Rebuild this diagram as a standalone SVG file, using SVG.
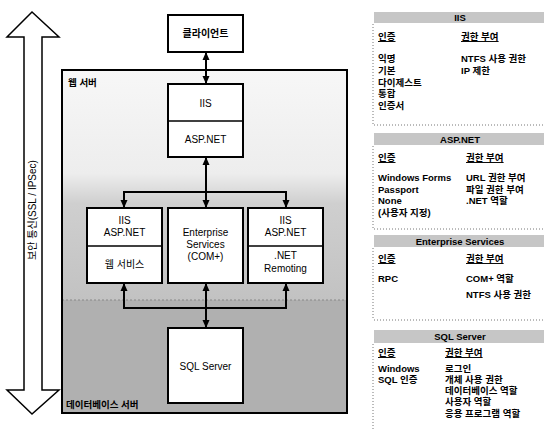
<svg xmlns="http://www.w3.org/2000/svg" width="544" height="435" viewBox="0 0 544 435">
<style>
text{font-family:"Liberation Sans","Noto Sans CJK KR",sans-serif;fill:#000}
.box{fill:#fff;stroke:#000;stroke-width:2}
.div{stroke:#000;stroke-width:1.5}
.t{font-size:10px;text-anchor:middle}
.conn{stroke:#000;stroke-width:2;fill:none}
.hdr{fill:#c6c6c6}
.ht{font-size:9.5px;font-weight:bold;text-anchor:middle}
.ch{font-size:9.5px;font-weight:bold;text-decoration:underline}
.c{font-size:9.5px;font-weight:bold}
.dot{stroke:#777;stroke-width:1;stroke-dasharray:1 2}
</style>
<defs>
<marker id="ah" markerWidth="8" markerHeight="8" refX="7" refY="4" orient="auto-start-reverse" markerUnits="userSpaceOnUse"><path d="M0,0.5 L8,4 L0,7.5 Z" fill="#000"/></marker>
<linearGradient id="web" x1="0" y1="0" x2="0" y2="1">
<stop offset="0" stop-color="#f7f7f7"/>
<stop offset="0.45" stop-color="#ededed"/>
<stop offset="0.58" stop-color="#cfcfcf"/>
<stop offset="1" stop-color="#c2c2c2"/>
</linearGradient>
</defs>

<g id="secure-arrow">
<path d="M32,12 L59,37 L42,37 L42,390 L59,390 L32,414 L7,390 L24,390 L24,37 L7,37 Z" fill="#fff" stroke="#000" stroke-width="1.5"/>
<text class="t" transform="translate(36,210) rotate(-90)">보안 통신(SSL / IPSec)</text>
</g>

<g id="web-server">
<rect x="62" y="70" width="285" height="230" fill="url(#web)" stroke="none"/>
<text x="68" y="86" style="font-size:9.5px;font-weight:bold">웹 서버</text>
</g>
<g id="db-server">
<rect x="62" y="300" width="285" height="113" fill="#b0b0b0"/>
<line x1="62" y1="300" x2="347" y2="300" stroke="#888" stroke-width="1" stroke-dasharray="2 2"/>
<text x="66" y="408" style="font-size:9.5px;font-weight:bold">데이터베이스 서버</text>
</g>
<rect x="62" y="70" width="285" height="343" fill="none" stroke="#000" stroke-width="2"/>

<g id="client">
<rect class="box" x="168" y="15" width="75" height="37"/>
<text class="t" x="205.5" y="37" style="font-weight:bold">클라이언트</text>
</g>

<g id="iis-top">
<rect class="box" x="168" y="84" width="75" height="73"/>
<line class="div" x1="168" y1="121" x2="243" y2="121"/>
<text class="t" x="205.5" y="107">IIS</text>
<text class="t" x="205.5" y="143">ASP.NET</text>
</g>

<g id="web-service">
<rect class="box" x="87" y="208" width="75" height="75"/>
<line class="div" x1="87" y1="246" x2="162" y2="246"/>
<text class="t" x="124.5" y="224">IIS</text>
<text class="t" x="124.5" y="236">ASP.NET</text>
<text class="t" x="124.5" y="268">웹 서비스</text>
</g>

<g id="enterprise-services">
<rect class="box" x="168" y="208" width="75" height="75"/>
<text class="t" x="205.5" y="236">Enterprise</text>
<text class="t" x="205.5" y="248">Services</text>
<text class="t" x="205.5" y="260">(COM+)</text>
</g>

<g id="remoting">
<rect class="box" x="248" y="208" width="75" height="75"/>
<line class="div" x1="248" y1="246" x2="323" y2="246"/>
<text class="t" x="285.5" y="224">IIS</text>
<text class="t" x="285.5" y="236">ASP.NET</text>
<text class="t" x="285.5" y="259">.NET</text>
<text class="t" x="285.5" y="272">Remoting</text>
</g>

<g id="sql-server">
<rect class="box" x="168" y="328" width="75" height="75"/>
<text class="t" x="205.5" y="370">SQL Server</text>
</g>

<g id="connectors">
<line class="conn" x1="206" y1="53" x2="206" y2="83" marker-start="url(#ah)" marker-end="url(#ah)"/>
<line class="conn" x1="206" y1="158" x2="206" y2="207" marker-start="url(#ah)" marker-end="url(#ah)"/>
<polyline class="conn" points="124,207 124,192 286,192 286,207" marker-start="url(#ah)" marker-end="url(#ah)"/>
<polyline class="conn" points="124,284 124,308 286,308 286,284" marker-start="url(#ah)" marker-end="url(#ah)"/>
<line class="conn" x1="206" y1="284" x2="206" y2="327" marker-start="url(#ah)" marker-end="url(#ah)"/>
</g>

<g id="panel-iis">
<rect class="hdr" x="374" y="12" width="170" height="11"/>
<text class="ht" x="460" y="21">IIS</text>
<line class="dot" x1="373" y1="24" x2="373" y2="125"/>
<text class="ch" x="378" y="40">인증</text>
<text class="ch" x="461" y="40">권한 부여</text>
<text class="c" x="378" y="62">익명</text>
<text class="c" x="378" y="74">기본</text>
<text class="c" x="378" y="86">다이제스트</text>
<text class="c" x="378" y="97">통합</text>
<text class="c" x="378" y="109">인증서</text>
<text class="c" x="461" y="62">NTFS 사용 권한</text>
<text class="c" x="461" y="74">IP 제한</text>
<line class="dot" x1="374" y1="125" x2="544" y2="125"/>
</g>

<g id="panel-aspnet">
<rect class="hdr" x="374" y="133" width="170" height="12"/>
<text class="ht" x="460" y="143">ASP.NET</text>
<line class="dot" x1="373" y1="146" x2="373" y2="229"/>
<text class="ch" x="378" y="161">인증</text>
<text class="ch" x="466" y="161">권한 부여</text>
<text class="c" x="378" y="181">Windows Forms</text>
<text class="c" x="378" y="193">Passport</text>
<text class="c" x="378" y="204">None</text>
<text class="c" x="378" y="216">(사용자 지정)</text>
<text class="c" x="466" y="181">URL 권한 부여</text>
<text class="c" x="466" y="193">파일 권한 부여</text>
<text class="c" x="466" y="204">.NET 역할</text>
<line class="dot" x1="374" y1="229" x2="544" y2="229"/>
</g>

<g id="panel-enterprise">
<rect class="hdr" x="374" y="235" width="170" height="12"/>
<text class="ht" x="460" y="245">Enterprise Services</text>
<line class="dot" x1="373" y1="248" x2="373" y2="320"/>
<text class="ch" x="378" y="262">인증</text>
<text class="ch" x="466" y="262">권한 부여</text>
<text class="c" x="378" y="282">RPC</text>
<text class="c" x="466" y="282">COM+ 역할</text>
<text class="c" x="466" y="298">NTFS 사용 권한</text>
<line class="dot" x1="374" y1="320" x2="544" y2="320"/>
</g>

<g id="panel-sql">
<rect class="hdr" x="374" y="330" width="170" height="13"/>
<text class="ht" x="460" y="340">SQL Server</text>
<line class="dot" x1="373" y1="344" x2="373" y2="430"/>
<text class="ch" x="378" y="356">인증</text>
<text class="ch" x="445" y="356">권한 부여</text>
<text class="c" x="378" y="372">Windows</text>
<text class="c" x="378" y="383">SQL 인증</text>
<text class="c" x="445" y="372">로그인</text>
<text class="c" x="445" y="383">개체 사용 권한</text>
<text class="c" x="445" y="394">데이터베이스 역할</text>
<text class="c" x="445" y="405">사용자 역할</text>
<text class="c" x="445" y="417">응용 프로그램 역할</text>
</g>
</svg>
